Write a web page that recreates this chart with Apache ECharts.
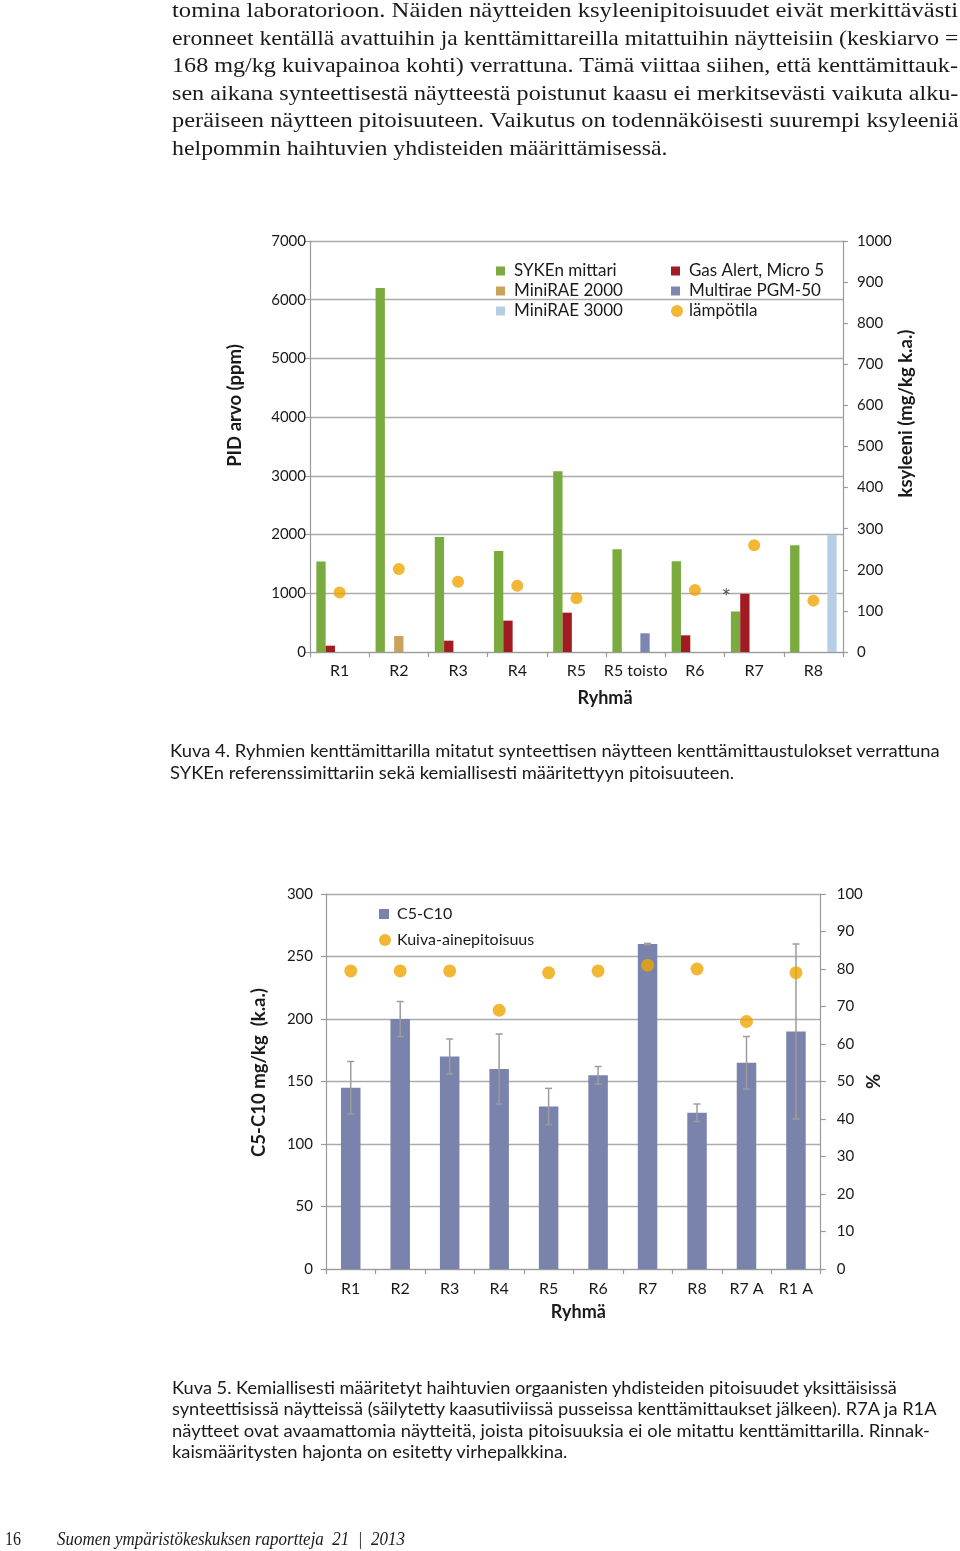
<!DOCTYPE html>
<html><head><meta charset="utf-8">
<script src="https://cdn.jsdelivr.net/npm/echarts@6/dist/echarts.min.js"></script>
<style>
html,body{margin:0;padding:0;background:#fff;}
#page{position:relative;width:960px;height:1551px;overflow:hidden;background:#fff;}
#chart{position:absolute;left:0;top:0;width:960px;height:1551px;}
.t{position:absolute;white-space:nowrap;color:#1a1a1a;transform-origin:0 50%;}
.para{font-family:"Liberation Serif","DejaVu Serif",serif;font-size:21.5px;line-height:28px;}
.cap{font-family:Lato,"Open Sans",sans-serif;font-size:16.5px;line-height:22px;}
.foot{font-family:"Liberation Serif","DejaVu Serif",serif;font-size:18px;line-height:22px;}
</style>
</head><body>
<div id="page">
<div id="chart"></div>
<div class="t para" style="left:172px;top:-4px" data-w="786">tomina laboratorioon. Näiden näytteiden ksyleenipitoisuudet eivät merkittävästi</div>
<div class="t para" style="left:172px;top:23.6px" data-w="786">eronneet kentällä avattuihin ja kenttämittareilla mitattuihin näytteisiin (keskiarvo =</div>
<div class="t para" style="left:172px;top:51.2px" data-w="786">168 mg/kg kuivapainoa kohti) verrattuna. Tämä viittaa siihen, että kenttämittauk-</div>
<div class="t para" style="left:172px;top:78.8px" data-w="786">sen aikana synteettisestä näytteestä poistunut kaasu ei merkitsevästi vaikuta alku-</div>
<div class="t para" style="left:172px;top:106.4px" data-w="786">peräiseen näytteen pitoisuuteen. Vaikutus on todennäköisesti suurempi ksyleeniä</div>
<div class="t para" style="left:172px;top:134px" data-w="496">helpommin haihtuvien yhdisteiden määrittämisessä.</div>

<div class="t cap" style="left:170px;top:740px" data-w="770">Kuva 4. Ryhmien kenttämittarilla mitatut synteettisen näytteen kenttämittaustulokset verrattuna</div>
<div class="t cap" style="left:170px;top:762px" data-w="564">SYKEn referenssimittariin sekä kemiallisesti määritettyyn pitoisuuteen.</div>

<div class="t cap" style="left:172px;top:1377px" data-w="725">Kuva 5. Kemiallisesti määritetyt haihtuvien orgaanisten yhdisteiden pitoisuudet yksittäisissä</div>
<div class="t cap" style="left:172px;top:1398.3px" data-w="765">synteettisissä näytteissä (säilytetty kaasutiiviissä pusseissa kenttämittaukset jälkeen). R7A ja R1A</div>
<div class="t cap" style="left:172px;top:1419.6px" data-w="758">näytteet ovat avaamattomia näytteitä, joista pitoisuuksia ei ole mitattu kenttämittarilla. Rinnak-</div>
<div class="t cap" style="left:172px;top:1441px" data-w="395">kaismääritysten hajonta on esitetty virhepalkkina.</div>

<div class="t foot" style="left:5px;top:1528px;font-size:19px" data-w="16">16</div>
<div class="t foot" style="left:57px;top:1528px;font-style:italic" data-w="348">Suomen ympäristökeskuksen raportteja&nbsp; 21&nbsp; |&nbsp; 2013</div>
</div>
<script>
// ---------- Data: Kuva 4 ----------
const categories1 = ['R1','R2','R3','R4','R5','R5 toisto','R6','R7','R8'];
const sykenMittari = [1540, 6200, 1960, 1720, 3080, 1750, 1545, 690, 1820];
const gasAlertMicro5 = [108, null, 193, 534, 670, null, 284, 990, null];
const miniRae2000 = [null, 272, null, null, null, null, null, null, null];
const multiraePgm50 = [null, null, null, null, null, 318, null, null, null];
const miniRae3000 = [null, null, null, null, null, null, null, null, 1995];
const lampotila = [145, 202, 171, 161, 131, null, 151, 260, 125];
const asteriskCategory = 'R7';
const leftTicks1 = {min: 0, max: 7000, interval: 1000};
const rightTicks1 = {min: 0, max: 1000, interval: 100};

// ---------- Data: Kuva 5 ----------
const categories2 = ['R1','R2','R3','R4','R5','R6','R7','R8','R7 A','R1 A'];
const c5c10 = [145, 200, 170, 160, 130, 155, 260, 125, 165, 190];
const c5c10Error = [21, 14, 14, 28, 14.5, 7, 0.5, 7, 21, 70];
const kuivaAine = [79.5, 79.5, 79.5, 69, 79, 79.5, 81, 80, 66, 79];
const leftTicks2 = {min: 0, max: 300, interval: 50};
const rightTicks2 = {min: 0, max: 100, interval: 10};

const FONT = 'Lato';
const TXT = '#1a1a1a';
const AX = '#9a9a9a';
const GRIDC = '#ababab';
const ORANGE = '#eea502';
const sq1 = 'path://M0,0M14,12M1,1.5h9v9h-9z';
const sq2 = 'path://M0,0M14,12M1,1h10v10h-10z';
const nz = a => a.map(v => v == null ? '-' : v);

function yAxis(grid, ticks, pos, name, gap, labelMargin, split, shift) {
  return {
    type: 'value', gridIndex: grid, position: pos,
    min: ticks.min, max: ticks.max, interval: ticks.interval,
    name: name, nameLocation: 'middle', nameGap: gap, nameRotate: 90, nameMoveOverlap: false,
    nameTextStyle: {fontFamily: FONT, fontWeight: 'bold', fontSize: 18.5, color: TXT, padding: [0, 0, 0, shift]},
    axisLine: {show: true, lineStyle: {color: AX, width: 1.2}},
    axisTick: {show: true, length: 5, lineStyle: {color: AX, width: 1.2}},
    axisLabel: {fontFamily: FONT, fontSize: 15, color: TXT, margin: labelMargin, formatter: v => String(v)},
    splitLine: {show: split, lineStyle: {color: GRIDC, width: 1.3}}
  };
}
function xAxis(grid, data, gap, margin, shift) {
  return {
    type: 'category', gridIndex: grid, data: data,
    name: 'Ryhmä', nameLocation: 'middle', nameGap: gap, nameMoveOverlap: false,
    nameTextStyle: {fontFamily: FONT, fontWeight: 'bold', fontSize: 18, color: TXT, padding: [0, 0, 0, shift]},
    axisLine: {show: true, lineStyle: {color: AX, width: 1.2}},
    axisTick: {show: true, length: 5, interval: 0, lineStyle: {color: AX, width: 1.2}},
    axisLabel: {fontFamily: FONT, fontSize: 16, color: TXT, margin: margin, interval: 0},
    splitLine: {show: false}
  };
}

const gasData = gasAlertMicro5.map((v, i) => {
  if (v == null) return '-';
  if (categories1[i] === asteriskCategory) {
    return {value: v, label: {show: true, formatter: '*', position: [-14, 2], align: 'center', verticalAlign: 'middle', fontSize: 15, color: '#444', fontFamily: 'DejaVu Sans'}};
  }
  return v;
});

const chart = echarts.init(document.getElementById('chart'), null, {renderer: 'canvas'});
chart.setOption({
  animation: false,
  backgroundColor: 'transparent',
  grid: [
    {left: 310, top: 241, width: 533, height: 411},
    {left: 326, top: 894, width: 494.7, height: 375}
  ],
  legend: [
    {orient: 'vertical', left: 490, top: 256, itemWidth: 14, itemHeight: 12, itemGap: 0,
     textStyle: {fontFamily: FONT, fontSize: 17, color: TXT, lineHeight: 20},
     data: [{name: 'SYKEn mittari', icon: sq1}, {name: 'MiniRAE 2000', icon: sq1}, {name: 'MiniRAE 3000', icon: sq1}]},
    {orient: 'vertical', left: 665, top: 256, itemWidth: 14, itemHeight: 12, itemGap: 0,
     textStyle: {fontFamily: FONT, fontSize: 17, color: TXT, lineHeight: 20},
     data: [{name: 'Gas Alert, Micro 5', icon: sq1}, {name: 'Multirae PGM-50', icon: sq1}, {name: 'lämpötila', icon: 'circle'}]},
    {orient: 'vertical', left: 373, top: 899, itemWidth: 14, itemHeight: 12, itemGap: 6,
     textStyle: {fontFamily: FONT, fontSize: 16, color: TXT, lineHeight: 20},
     data: [{name: 'C5-C10', icon: sq2}, {name: 'Kuiva-ainepitoisuus', icon: 'circle'}]}
  ],
  xAxis: [xAxis(0, categories1, 37, 11, 57), xAxis(1, categories2, 34, 12, 10)],
  yAxis: [
    yAxis(0, leftTicks1, 'left', 'PID arvo (ppm)', 65, 4, true, 82),
    yAxis(0, rightTicks1, 'right', 'ksyleeni (mg/kg k.a.)', 54, 14, false, 66),
    yAxis(1, leftTicks2, 'left', 'C5-C10 mg/kg  (k.a.)', 57, 13, true, 18),
    yAxis(1, rightTicks2, 'right', '%', 44, 16, false, 0)
  ],
  series: [
    {name: 'SYKEn mittari', type: 'bar', xAxisIndex: 0, yAxisIndex: 0, data: nz(sykenMittari),
     itemStyle: {color: '#7aab3f'}, barGap: '0%', barCategoryGap: '21.4%'},
    {name: 'Gas Alert, Micro 5', type: 'bar', xAxisIndex: 0, yAxisIndex: 0, data: gasData,
     itemStyle: {color: '#a01c22'}, barGap: '0%', barCategoryGap: '21.4%'},
    {name: 'MiniRAE 2000', type: 'bar', xAxisIndex: 0, yAxisIndex: 0, data: nz(miniRae2000),
     itemStyle: {color: '#c9a25b'}, barGap: '0%', barCategoryGap: '21.4%'},
    {name: 'Multirae PGM-50', type: 'bar', xAxisIndex: 0, yAxisIndex: 0, data: nz(multiraePgm50),
     itemStyle: {color: '#7b87b1'}, barGap: '0%', barCategoryGap: '21.4%'},
    {name: 'MiniRAE 3000', type: 'bar', xAxisIndex: 0, yAxisIndex: 0, data: nz(miniRae3000),
     itemStyle: {color: '#b5cde5'}, barGap: '0%', barCategoryGap: '21.4%'},
    {name: 'lämpötila', type: 'scatter', xAxisIndex: 0, yAxisIndex: 1, data: nz(lampotila),
     symbolSize: 12, itemStyle: {color: ORANGE}, z: 5},

    {name: 'C5-C10', type: 'bar', xAxisIndex: 1, yAxisIndex: 2, data: c5c10,
     barWidth: 19.5, itemStyle: {color: '#7a83ab'}},
    {name: 'virhe', type: 'custom', xAxisIndex: 1, yAxisIndex: 2, z: 4,
     encode: {x: 0, y: 1},
     data: c5c10.map((v, i) => [i, v, c5c10Error[i]]),
     renderItem: function (params, api) {
       const x = api.value(0), v = api.value(1), e = api.value(2);
       const top = api.coord([x, v + e]);
       const bot = api.coord([x, v - e]);
       const hw = 3.5;
       const st = {stroke: '#9c9c9c', lineWidth: 1.5};
       return {type: 'group', children: [
         {type: 'line', shape: {x1: top[0], y1: top[1], x2: bot[0], y2: bot[1]}, style: st},
         {type: 'line', shape: {x1: top[0] - hw, y1: top[1], x2: top[0] + hw, y2: top[1]}, style: st},
         {type: 'line', shape: {x1: bot[0] - hw, y1: bot[1], x2: bot[0] + hw, y2: bot[1]}, style: st}
       ]};
     }},
    {name: 'Kuiva-ainepitoisuus', type: 'scatter', xAxisIndex: 1, yAxisIndex: 3, data: kuivaAine,
     symbolSize: 13, itemStyle: {color: ORANGE}, z: 10}
  ]
});

// fit text lines to their measured widths in the reference
document.querySelectorAll('.t[data-w]').forEach(el => {
  const w = parseFloat(el.getAttribute('data-w'));
  const actual = el.scrollWidth;
  if (actual > 0) el.style.transform = 'scaleX(' + (w / actual) + ')';
});
</script>
</body></html>
